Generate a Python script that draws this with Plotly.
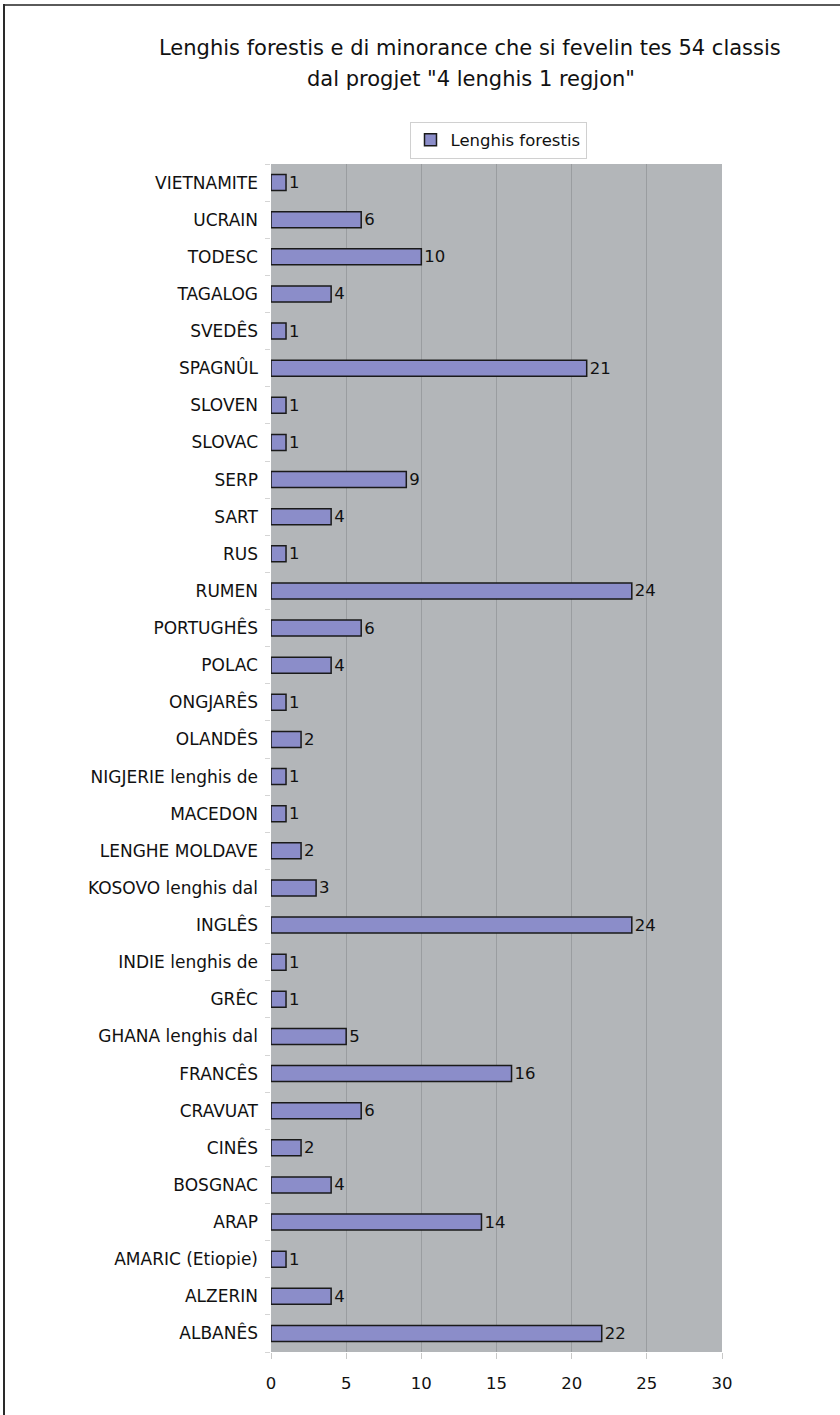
import plotly.graph_objects as go

# Data (bottom to top)
categories = ["ALBANÊS", "ALZERIN", "AMARIC (Etiopie)", "ARAP", "BOSGNAC", "CINÊS",
              "CRAVUAT", "FRANCÊS", "GHANA lenghis dal", "GRÊC", "INDIE lenghis de",
              "INGLÊS", "KOSOVO lenghis dal", "LENGHE MOLDAVE", "MACEDON",
              "NIGJERIE lenghis de", "OLANDÊS", "ONGJARÊS", "POLAC", "PORTUGHÊS",
              "RUMEN", "RUS", "SART", "SERP", "SLOVAC", "SLOVEN", "SPAGNÛL",
              "SVEDÊS", "TAGALOG", "TODESC", "UCRAIN", "VIETNAMITE"]
values = [22, 4, 1, 14, 4, 2, 6, 16, 5, 1, 1, 24, 3, 2, 1, 1, 2, 1, 4, 6,
          24, 1, 4, 9, 1, 1, 21, 1, 4, 10, 6, 1]
series_name = "Lenghis forestis"
x_ticks = [0, 5, 10, 15, 20, 25, 30]
title_line1 = "Lenghis forestis e di minorance che si fevelin tes 54 classis"
title_line2 = "dal progjet \"4 lenghis 1 regjon\""

FONT = "DejaVu Sans"
W, H = 840, 1415
L, R, T, B = 271, 722, 164, 1352

def px(x):
    return (x - L) / (R - L)

def py(y):
    return (B - y) / (B - T)

fig = go.Figure()
fig.add_trace(go.Bar(
    y=categories, x=values, orientation="h", name=series_name,
    marker=dict(color="#8b8dc9", line=dict(color="#1a1a1a", width=1.5)),
    width=0.43,
    text=values, texttemplate="%{x}", textposition="outside",
    constraintext="none",
    textfont=dict(family=FONT, size=16.5, color="#111111"),
    cliponaxis=False, showlegend=True,
))

fig.update_layout(
    width=W, height=H,
    margin=dict(l=L, r=W - R, t=T, b=H - B, pad=0),
    paper_bgcolor="white", plot_bgcolor="#b3b6b9",
    font=dict(family=FONT, size=16.5, color="#111111"),
    showlegend=True,
    legend=dict(orientation="h", x=px(498), y=py(140), xanchor="center", yanchor="middle",
                bgcolor="white", bordercolor="#d0d0d0", borderwidth=1,
                font=dict(family=FONT, size=16.5, color="#111111"),
                itemwidth=30),
    xaxis=dict(range=[0, 30], tickvals=x_ticks, showgrid=True, gridcolor="#9a9da0",
               gridwidth=1, zeroline=False, ticks="outside", ticklen=6,
               tickcolor="#c8c8c8", ticklabelstandoff=10, showline=False,
               tickfont=dict(family=FONT, size=16.5, color="#111111")),
    yaxis=dict(type="category", showgrid=False, ticks="outside", ticklen=5,
               tickcolor="#d5d5d5", tickson="boundaries", ticklabelstandoff=12,
               showline=False, tickfont=dict(family=FONT, size=17, color="#111111")),
    bargap=0.57,
)

fig.add_annotation(text=title_line1, xref="paper", yref="paper", x=px(470), y=py(48),
                   xanchor="center", yanchor="middle", showarrow=False,
                   font=dict(family=FONT, size=21, color="#111111"))
fig.add_annotation(text=title_line2, xref="paper", yref="paper", x=px(471), y=py(79),
                   xanchor="center", yanchor="middle", showarrow=False,
                   font=dict(family=FONT, size=21, color="#111111"))

# outer frame (top and left edges)
fig.add_shape(type="line", xref="paper", yref="paper", x0=px(3), x1=px(W), y0=py(5), y1=py(5),
              line=dict(color="#5a5a5a", width=2))
fig.add_shape(type="line", xref="paper", yref="paper", x0=px(4), x1=px(4), y0=py(4), y1=py(H),
              line=dict(color="#2a2a2a", width=2))

fig.write_html("out.html")
